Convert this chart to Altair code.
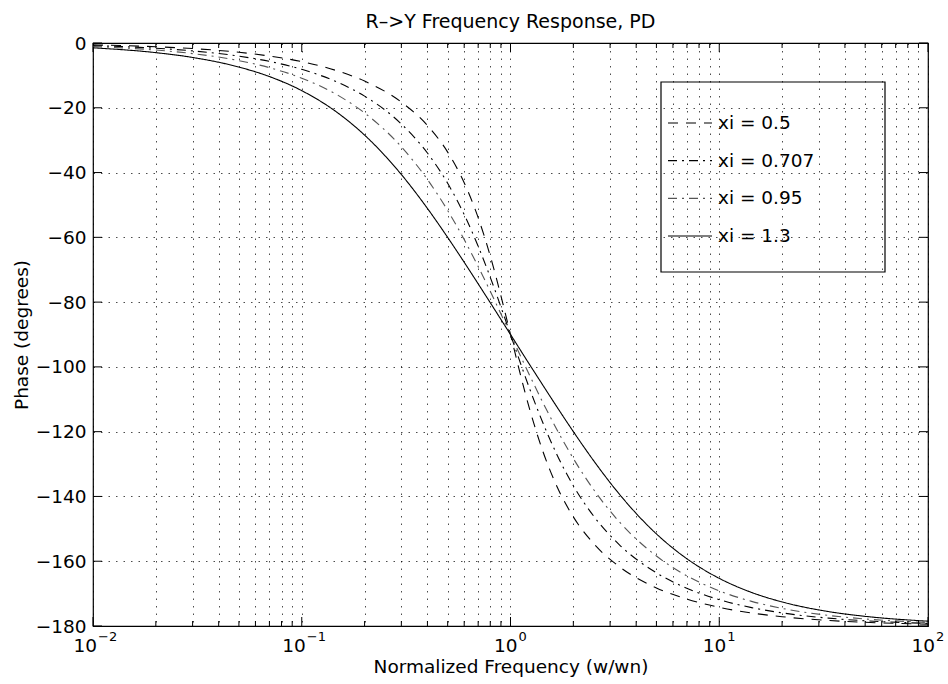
import altair as alt
import pandas as pd

# ---------------- data ----------------
freq = [0.01, 0.02, 0.03, 0.05, 0.07, 0.1, 0.15, 0.2, 0.3, 0.4, 0.5, 0.6, 0.7, 0.8,
        0.85, 0.9, 0.95, 1.0, 1.053, 1.111, 1.176, 1.25, 1.429, 1.667, 2.0, 2.5,
        3.333, 5.0, 6.667, 10.0, 14.29, 20.0, 33.33, 50.0, 100.0]

phase_xi_050 = [-0.57, -1.15, -1.72, -2.87, -4.02, -5.77, -8.72, -11.77, -18.25, -25.46,
                -33.69, -43.15, -53.93, -65.77, -71.92, -78.08, -84.14, -90.0,
                -95.86, -101.92, -108.08, -114.23, -126.07, -136.85, -146.31, -154.54,
                -161.75, -168.23, -171.28, -174.23, -175.98, -177.13, -178.28, -178.85, -179.43]
phase_xi_0707 = [-0.81, -1.62, -2.43, -4.05, -5.68, -8.13, -12.24, -16.41, -25.00, -33.96,
                 -43.31, -52.97, -62.74, -72.35, -77.00, -81.51, -85.85, -90.0,
                 -94.15, -98.49, -103.00, -107.65, -117.26, -127.03, -136.69, -146.04,
                 -155.00, -163.59, -167.76, -171.87, -174.32, -175.95, -177.57, -178.38, -179.19]
phase_xi_095 = [-1.09, -2.18, -3.27, -5.44, -7.61, -10.86, -16.25, -21.60, -32.06, -42.14,
                -51.71, -60.69, -69.02, -76.68, -80.25, -83.66, -86.91, -90.0,
                -93.09, -96.34, -99.75, -103.32, -110.98, -119.31, -128.29, -137.86,
                -147.94, -158.40, -163.75, -169.14, -172.39, -174.56, -176.73, -177.82, -178.91]
phase_xi_130 = [-1.49, -2.98, -4.46, -7.43, -10.36, -14.71, -21.75, -28.44, -40.60, -51.07,
                -60.02, -67.69, -74.35, -80.18, -82.84, -85.36, -87.74, -90.0,
                -92.26, -94.64, -97.16, -99.82, -105.65, -112.31, -119.98, -128.93,
                -139.40, -151.56, -158.25, -165.29, -169.64, -172.57, -175.54, -177.02, -178.51]

series_labels = ["xi = 0.5", "xi = 0.707", "xi = 0.95", "xi = 1.3"]

x_major = [0.01, 0.1, 1, 10, 100]
x_exponents = ["\u22122", "\u22121", "0", "1", "2"]
x_minor = [0.02, 0.03, 0.04, 0.05, 0.06, 0.07, 0.08, 0.09,
           0.2, 0.3, 0.4, 0.5, 0.6, 0.7, 0.8, 0.9,
           2, 3, 4, 5, 6, 7, 8, 9,
           20, 30, 40, 50, 60, 70, 80, 90]
y_ticks = [-180, -160, -140, -120, -100, -80, -60, -40, -20, 0]

title_text = "R\u2013>Y Frequency Response, PD"
x_title = "Normalized Frequency (w/wn)"
y_title = "Phase (degrees)"

# ---------------- styling ----------------
W, H = 835, 583
FONT = "DejaVu Sans"
FS = 18.5
series_colors = ["#000000", "#000000", "#555555", "#000000"]
series_dashes = [[10, 8], [9, 5, 2, 5], [9, 5, 2, 5], [1, 0]]

rows = []
for lab, ph in zip(series_labels, [phase_xi_050, phase_xi_0707, phase_xi_095, phase_xi_130]):
    for f, p in zip(freq, ph):
        rows.append({"w": f, "phase": p, "series": lab})
df = pd.DataFrame(rows)

xscale = alt.Scale(type="log", domain=[0.01, 100], nice=False)
yscale = alt.Scale(domain=[-180, 0], nice=False, zero=False)
cscale = alt.Scale(domain=series_labels, range=series_colors)
dscale = alt.Scale(domain=series_labels, range=series_dashes)

grid_values = sorted(x_major + x_minor)

curves = alt.Chart(df).mark_line(strokeWidth=1.1, interpolate="monotone", clip=True).encode(
    x=alt.X("w:Q", scale=xscale, axis=alt.Axis(
        values=grid_values, labels=False, ticks=False, domain=False,
        grid=True, gridDash=[1.5, 6], gridColor="#000000", gridOpacity=0.7, gridWidth=1,
        title=x_title, titleFont=FONT, titleFontSize=FS, titleFontWeight="normal",
        titleColor="black", titlePadding=31)),
    y=alt.Y("phase:Q", scale=yscale, axis=alt.Axis(
        values=y_ticks, ticks=False, domain=False, labelPadding=7,
        labelFont=FONT, labelFontSize=FS, labelColor="black",
        grid=True, gridDash=[1.5, 6], gridColor="#000000", gridOpacity=0.7, gridWidth=1,
        title=y_title, titleFont=FONT, titleFontSize=FS, titleFontWeight="normal",
        titleColor="black", titlePadding=4)),
    color=alt.Color("series:N", scale=cscale, legend=None),
    strokeDash=alt.StrokeDash("series:N", scale=dscale, legend=None),
    order=alt.Order("w:Q"),
)

# inward tick marks on all four sides
xmaj = pd.DataFrame({"w": x_major})
xmin = pd.DataFrame({"w": x_minor})
yt = pd.DataFrame({"v": y_ticks})

def xticks(data, y0, y1):
    return alt.Chart(data).mark_rule(color="black", strokeWidth=1).encode(
        x=alt.X("w:Q", scale=xscale, axis=None), y=alt.value(y0), y2=alt.value(y1))

def yticks(x0, x1):
    return alt.Chart(yt).mark_rule(color="black", strokeWidth=1).encode(
        y=alt.Y("v:Q", scale=yscale, axis=None), x=alt.value(x0), x2=alt.value(x1))

tick_layers = [
    xticks(xmaj, H, H - 9), xticks(xmaj, 0, 9),
    xticks(xmin, H, H - 5), xticks(xmin, 0, 5),
    yticks(0, 9), yticks(W, W - 9),
]

# x tick labels: "10" with superscript exponent
xlab = pd.DataFrame({"w": x_major, "exp": x_exponents})
def base10(flt, dx):
    return alt.Chart(xlab).transform_filter(flt).mark_text(
        text="10", font=FONT, fontSize=FS, align="right", baseline="middle", dx=dx, color="black"
    ).encode(x=alt.X("w:Q", scale=xscale, axis=None), y=alt.value(H + 20))

def expo(flt, dx):
    return alt.Chart(xlab).transform_filter(flt).mark_text(
        font=FONT, fontSize=13, align="left", baseline="middle", dx=dx, color="black"
    ).encode(x=alt.X("w:Q", scale=xscale, axis=None), y=alt.value(H + 11), text="exp:N")

label_layers = [
    base10("datum.w < 1", 4), expo("datum.w < 1", 5),
    base10("datum.w >= 1", 7), expo("datum.w >= 1", 8),
]

# chart title as a text mark above the plot
title_layer = alt.Chart(pd.DataFrame({"t": [title_text]})).mark_text(
    font=FONT, fontSize=19, align="center", baseline="alphabetic", color="black"
).encode(x=alt.value(W / 2), y=alt.value(-15), text="t:N")

# legend (drawn manually, MATLAB style, transparent box)
leg = pd.DataFrame({"series": series_labels})
legy = alt.Scale(type="point", domain=series_labels, range=[80, 193], padding=0)

legend_box = alt.Chart(pd.DataFrame({"k": [0]})).mark_rect(
    fillOpacity=0, stroke="black", strokeWidth=1.2
).encode(x=alt.value(568), x2=alt.value(792), y=alt.value(39), y2=alt.value(229))

legend_lines = alt.Chart(leg).mark_rule(strokeWidth=1.1).encode(
    x=alt.value(575), x2=alt.value(619),
    y=alt.Y("series:N", scale=legy, axis=None),
    color=alt.Color("series:N", scale=cscale, legend=None),
    strokeDash=alt.StrokeDash("series:N", scale=dscale, legend=None),
)
legend_text = alt.Chart(leg).mark_text(
    font=FONT, fontSize=FS, align="left", baseline="middle", color="black"
).encode(x=alt.value(625), y=alt.Y("series:N", scale=legy, axis=None), text="series:N")

chart = alt.layer(
    curves, *tick_layers, *label_layers, title_layer, legend_box, legend_lines, legend_text
).resolve_scale(y="independent").resolve_axis(x="independent", y="independent").properties(
    width=W, height=H,
    padding={"left": 93, "top": 43, "right": 20, "bottom": 58},
    autosize=alt.AutoSizeParams(type="none"),
    background="white",
).configure_view(stroke="black", strokeWidth=1.2)

chart.save("out.html", embed_options={"renderer": "svg", "actions": False})
